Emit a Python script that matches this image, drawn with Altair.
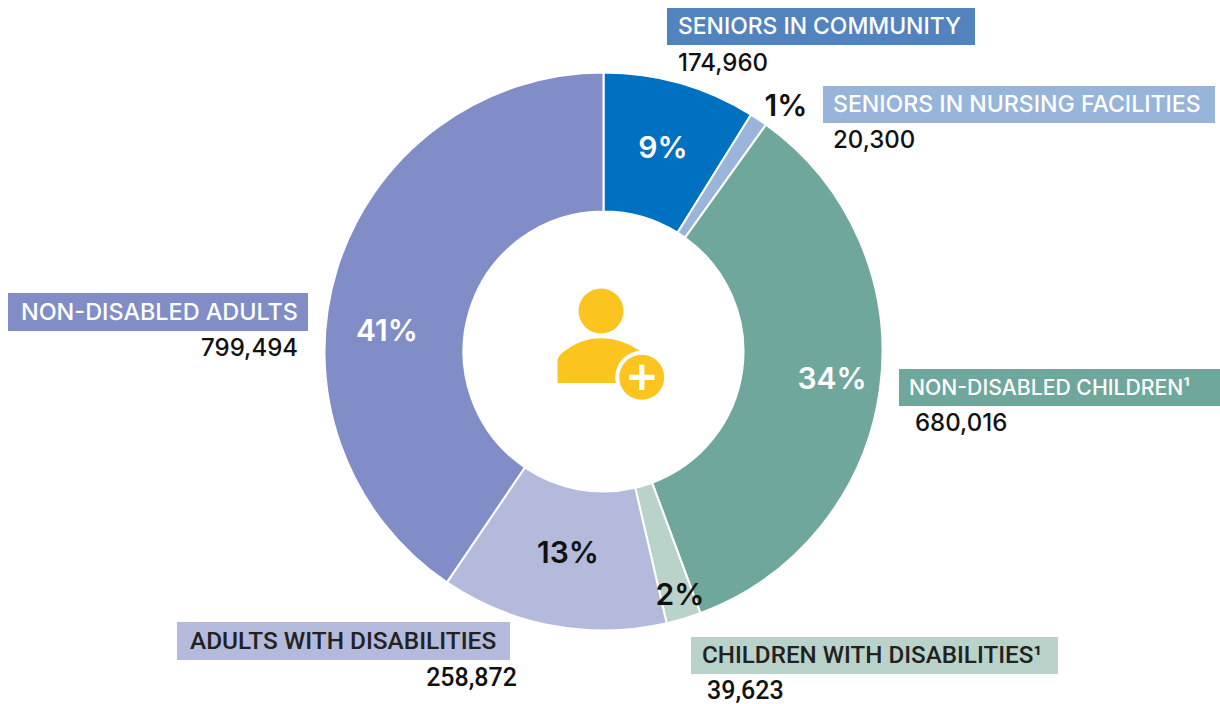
import math
import altair as alt
import pandas as pd

# Enrollment by population group, clockwise from 12 o'clock
categories = [
    "SENIORS IN COMMUNITY",
    "SENIORS IN NURSING FACILITIES",
    "NON-DISABLED CHILDREN¹",
    "CHILDREN WITH DISABILITIES¹",
    "ADULTS WITH DISABILITIES",
    "NON-DISABLED ADULTS",
]
enrollment = [174960, 20300, 680016, 39623, 258872, 799494]
slice_colors = ["#0070C0", "#9AB5D9", "#6FA79C", "#BAD3CA", "#B4BADC", "#818DC6"]

total = sum(enrollment)
W, H = 1220, 704
CX, CY = 603.5, 351.5
FONT = "Inter"
NARROW = "Roboto"
YELLOW = "#FCC41F"

slices = pd.DataFrame(
    {"category": categories, "enrollment": enrollment, "idx": range(len(categories))}
)

donut = (
    alt.Chart(slices)
    .mark_arc(innerRadius=140, outerRadius=279, stroke="white", strokeWidth=2)
    .encode(
        theta=alt.Theta(
            "enrollment:Q",
            stack=True,
            scale=alt.Scale(domain=[0, total], range=[0, 2 * math.pi]),
        ),
        order=alt.Order("idx:Q"),
        color=alt.Color(
            "category:N",
            scale=alt.Scale(domain=categories, range=slice_colors),
            legend=None,
        ),
        x=alt.value(CX),
        y=alt.value(CY),
    )
)


def text_marks(frame, field, weight, font, align):
    return (
        alt.Chart(frame)
        .mark_text(font=font, fontWeight=weight, align=align, baseline="middle")
        .encode(
            x=alt.X("x:Q", scale=None),
            y=alt.Y("y:Q", scale=None),
            text=alt.Text(f"{field}:N"),
            color=alt.Color("ink:N", scale=None),
            size=alt.Size("pt:Q", scale=None),
        )
    )


# Category name plates
plates = pd.DataFrame(
    {
        "category": categories,
        "x": [667, 823, 899, 691, 177, 8],
        "x2": [975, 1215, 1220, 1058, 510, 308],
        "y": [8, 86, 369, 637, 622, 293],
        "y2": [45, 123, 406, 674, 660, 331],
        "fill": ["#5283BF", "#97B4D9", "#6FA79C", "#BAD3CA", "#B4BADC", "#818DC6"],
    }
)
plate_rects = (
    alt.Chart(plates)
    .mark_rect()
    .encode(
        x=alt.X("x:Q", scale=None),
        x2="x2:Q",
        y=alt.Y("y:Q", scale=None),
        y2="y2:Q",
        color=alt.Color("fill:N", scale=None),
    )
)

name_text = pd.DataFrame(
    {
        "name": categories,
        "x": [678, 833, 909, 702, 190, 21],
        "y": [27, 105, 389, 655.5, 641.5, 313],
        "pt": [22.9, 23.1, 21.2, 24.2, 24.4, 23.4],
        "ink": ["#FFFFFF", "#FFFFFF", "#FFFFFF", "#222222", "#222222", "#FFFFFF"],
    }
)
names_wide = text_marks(name_text[name_text.ink == "#FFFFFF"], "name", 500, FONT, "left")
names_narrow = text_marks(name_text[name_text.ink != "#FFFFFF"], "name", 500, NARROW, "left")

# Enrollment counts under each plate
counts = pd.DataFrame(
    {
        "count": [f"{v:,}" for v in enrollment],
        "x": [678, 833, 915, 707, 517, 298],
        "y": [63.5, 140.5, 423.5, 691, 677.5, 348.5],
        "pt": [24, 24, 24, 25, 25, 24],
        "ink": ["#111111"] * 6,
    }
)
counts_left = text_marks(counts.iloc[:3], "count", 500, FONT, "left")
counts_low = text_marks(counts.iloc[[3]], "count", 500, NARROW, "left")
counts_right1 = text_marks(counts.iloc[[4]], "count", 500, NARROW, "right")
counts_right2 = text_marks(counts.iloc[[5]], "count", 500, FONT, "right")

# Share of total on or beside each slice
shares = pd.DataFrame(
    {
        "share": [f"{round(100 * v / total)}%" for v in enrollment],
        "x": [663, 786, 832, 680, 568, 387],
        "y": [149, 107, 380, 596, 554, 332],
        "pt": [30] * 6,
        "ink": ["#FFFFFF", "#111111", "#FFFFFF", "#111111", "#111111", "#FFFFFF"],
    }
)
share_text = text_marks(shares, "share", 600, FONT, "center")

# Member icon in the hole of the donut
anchor = pd.DataFrame({"k": [0]})
BODY = (
    "M-1 0.53 L-1 0.02 Q-1 -0.12 -0.85 -0.22 Q-0.45 -0.55 0.05 -0.55 "
    "Q0.55 -0.55 0.98 -0.25 L0.98 0.53 Z"
)


def disc(x, y, r, fill):
    return (
        alt.Chart(anchor)
        .mark_arc(theta=0, theta2=2 * math.pi, outerRadius=r, innerRadius=0, fill=fill)
        .encode(x=alt.value(x), y=alt.value(y))
    )


def bar_piece(x, x2, y, y2, fill):
    return (
        alt.Chart(anchor)
        .mark_rect(fill=fill)
        .encode(x=alt.value(x), x2=alt.value(x2), y=alt.value(y), y2=alt.value(y2))
    )


body = (
    alt.Chart(anchor)
    .mark_point(shape=BODY, filled=True, fill=YELLOW, opacity=1, size=(2 * 41.5) ** 2, strokeWidth=0)
    .encode(x=alt.value(599), y=alt.value(361))
)
icon = [
    disc(601, 311, 22.5, YELLOW),
    body,
    disc(641.7, 377.3, 26.5, "#FFFFFF"),
    disc(641.7, 377.3, 22.5, YELLOW),
    bar_piece(629, 654.5, 374.7, 380, "#FFFFFF"),
    bar_piece(639, 644.4, 364.7, 390, "#FFFFFF"),
]

chart = (
    alt.layer(
        donut,
        plate_rects,
        names_wide,
        names_narrow,
        counts_left,
        counts_low,
        counts_right1,
        counts_right2,
        share_text,
        *icon,
    )
    .resolve_scale(color="independent", theta="independent")
    .properties(width=W, height=H, padding=0, autosize=alt.AutoSizeParams(type="none"))
    .configure_view(stroke=None)
)

chart.save("out.html", embed_options={"renderer": "svg", "actions": False})
